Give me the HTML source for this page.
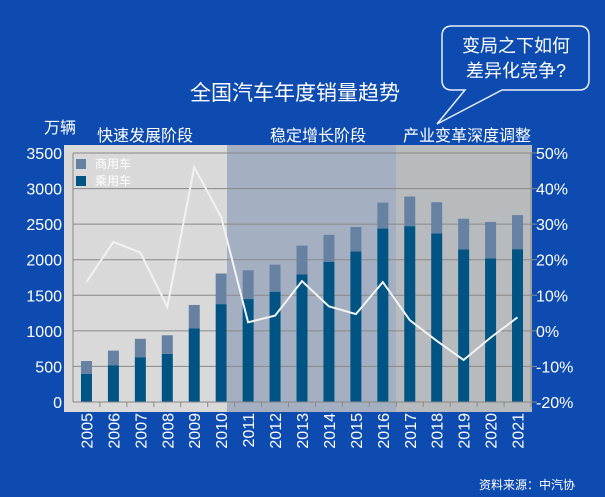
<!DOCTYPE html>
<html><head><meta charset="utf-8">
<style>
html,body{margin:0;padding:0;background:#0e4bb0;}
svg{display:block;font-family:"Liberation Sans","Noto Sans CJK SC",sans-serif;}
</style></head>
<body>
<svg id="chart" width="605" height="497" viewBox="0 0 605 497">
<rect x="0" y="0" width="605" height="497" fill="#0e4bb0"/>
<text x="295" y="100" fill="#fff" font-size="21" text-anchor="middle">全国汽车年度销量趋势</text>
<g>
<path d="M452,26 H579 Q589,26 589,36 V80 Q589,90 579,90 H502 L437,124 L465,90 H452 Q442,90 442,80 V36 Q442,26 452,26 Z" fill="#0e4bb0" stroke="#e8eef8" stroke-width="1.5"/>
<text x="516" y="52" fill="#fff" font-size="18" text-anchor="middle">变局之下如何</text>
<text x="516" y="77" fill="#fff" font-size="18" text-anchor="middle">差异化竞争?</text>
</g>
<text x="60" y="133" fill="#fff" font-size="16" text-anchor="middle">万辆</text>
<text x="145" y="141" fill="#fff" font-size="16" text-anchor="middle">快速发展阶段</text>
<text x="318" y="141" fill="#fff" font-size="16" text-anchor="middle">稳定增长阶段</text>
<text x="467" y="141" fill="#fff" font-size="16" text-anchor="middle">产业变革深度调整</text>
<rect x="64" y="145" width="163" height="267" fill="#d9d9d9"/>
<rect x="227" y="145" width="169" height="267" fill="#a4b0c2"/>
<rect x="396" y="145" width="136" height="267" fill="#b8bbbd"/>
<g id="grid"></g>
<g id="bars"></g>
<g id="line"></g>
<g id="axes"></g>
<g>
<rect x="76" y="159" width="10" height="10" fill="#6781a2"/>
<text x="95" y="168" fill="#fff" font-size="12">商用车</text>
<rect x="76" y="176" width="10" height="10" fill="#005483"/>
<text x="95" y="185" fill="#fff" font-size="12">乘用车</text>
</g>
<text x="575" y="489" fill="#fff" font-size="12" text-anchor="end">资料来源：中汽协</text>
</svg>
<script>
const years = ["2005","2006","2007","2008","2009","2010","2011","2012","2013","2014","2015","2016","2017","2018","2019","2020","2021"];
const passenger = [397,518,630,676,1033,1376,1447,1550,1793,1970,2115,2438,2472,2371,2144,2018,2148];
const commercial = [179,204,258,262,331,430,404,381,405,379,345,365,416,437,432,513,479];
const growth = [13.8,25,22,6.7,46,32,2.4,4.3,14,6.9,4.7,13.7,3,-2.8,-8.2,-1.9,3.8];
const leftTicks = [0,500,1000,1500,2000,2500,3000,3500];
const rightTicks = [-20,-10,0,10,20,30,40,50];

const NS = "http://www.w3.org/2000/svg";
const X0 = 73, X1 = 531, Y0 = 402, Y1 = 153;
const step = (X1 - X0) / years.length;
function xC(i){ return X0 + step * (i + 0.5); }
function yL(v){ return Y0 - (v / 3500) * (Y0 - Y1); }
function yR(p){ return Y0 - ((p + 20) / 70) * (Y0 - Y1); }
function mk(tag, attrs, parent){ const e = document.createElementNS(NS, tag); for (const k in attrs) e.setAttribute(k, attrs[k]); parent.appendChild(e); return e; }

const grid = document.getElementById("grid");
const axes = document.getElementById("axes");
leftTicks.forEach((t, i) => {
  const gl = mk("line", {x1: X0, x2: X1, y1: yL(t), y2: yL(t), stroke: "#888", "stroke-width": 1}, grid);
  
  
  const lt = mk("text", {x: 62, y: yL(t) + 6, fill: "#fff", "font-size": 16, "text-anchor": "end"}, axes);
  lt.textContent = t;
  
  
  mk("line", {x1: X1, x2: X1 + 6, y1: yL(t), y2: yL(t), stroke: "#888"}, axes);
});
rightTicks.forEach(t => {
  const rt = mk("text", {x: 536, y: yR(t) + 6, fill: "#fff", "font-size": 16}, axes);
  rt.textContent = t + "%";
  
  
});
mk("line", {x1: X0, x2: X0, y1: Y1, y2: Y0, stroke: "#888"}, axes);
mk("line", {x1: X1, x2: X1, y1: Y1, y2: Y0, stroke: "#888"}, axes);
mk("line", {x1: X0, x2: X1, y1: Y0, y2: Y0, stroke: "#888"}, axes);

const bars = document.getElementById("bars");
const bw = 11;
years.forEach((yr, i) => {
  const x = xC(i) - bw / 2;
  const p = passenger[i], c = commercial[i];
  const bp = mk("rect", {x: x, y: yL(p), width: bw, height: Y0 - yL(p), fill: "#005483"}, bars);
  
  
  const bc = mk("rect", {x: x, y: yL(p + c), width: bw, height: yL(p) - yL(p + c), fill: "#6781a2"}, bars);
  
  
  mk("line", {x1: X0 + step * (i + 1), x2: X0 + step * (i + 1), y1: Y0, y2: Y0 + 5, stroke: "#888"}, axes);
  const xl = mk("text", {x: 0, y: 0, fill: "#fff", "font-size": 16, "text-anchor": "end", transform: "translate(" + (xC(i) + 6) + "," + (Y0 + 11) + ") rotate(-90)"}, axes);
  xl.textContent = yr;
  
  
});

const line = document.getElementById("line");
const pts = growth.map((g, i) => xC(i).toFixed(1) + "," + yR(g).toFixed(1)).join(" ");
const pl = mk("polyline", {points: pts, fill: "none", stroke: "#f2f2f2", "stroke-width": 2}, line);


</script>
</body></html>
